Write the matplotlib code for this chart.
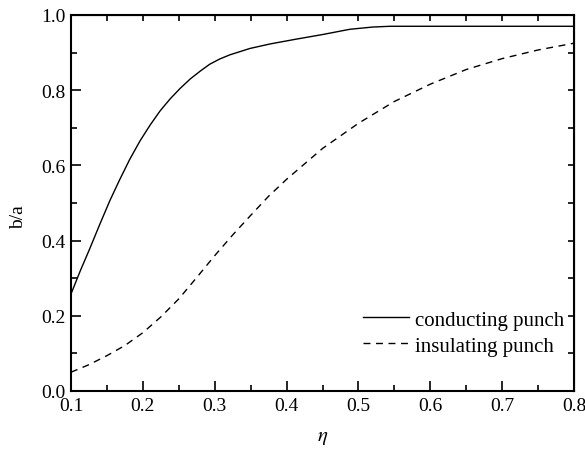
import matplotlib
matplotlib.use("Agg")
from matplotlib import pyplot as plt
from matplotlib.ticker import MultipleLocator, NullLocator, FormatStrFormatter

plt.rcParams['font.family'] = ['Liberation Serif', 'DejaVu Serif']
plt.rcParams['mathtext.fontset'] = 'stix'

# values
eta_cond = [0.1, 0.113, 0.126, 0.14, 0.154, 0.168, 0.182, 0.196, 0.21, 0.224,
            0.238, 0.252, 0.266, 0.28, 0.293, 0.307, 0.321, 0.349, 0.377,
            0.414, 0.45, 0.488, 0.52, 0.544, 0.6, 0.7, 0.8]
ba_cond = [0.258, 0.32, 0.378, 0.443, 0.506, 0.563, 0.617, 0.665, 0.707, 0.745,
           0.777, 0.805, 0.83, 0.851, 0.869, 0.883, 0.894, 0.911, 0.923,
           0.936, 0.948, 0.962, 0.968, 0.970, 0.970, 0.970, 0.970]

eta_ins = [0.1, 0.125, 0.15, 0.175, 0.2, 0.225, 0.25, 0.275, 0.3, 0.325, 0.35,
           0.375, 0.4, 0.45, 0.5, 0.55, 0.6, 0.65, 0.7, 0.75, 0.8]
ba_ins = [0.05, 0.07, 0.094, 0.121, 0.155, 0.197, 0.245, 0.302, 0.36, 0.415,
          0.467, 0.518, 0.563, 0.645, 0.712, 0.77, 0.816, 0.855, 0.884, 0.907, 0.925]

fig = plt.figure(figsize=(5.85, 4.56), dpi=100)
ax = fig.add_axes([71/585, 1-392/456, (574-71)/585, (392-16)/456])

ax.plot(eta_cond, ba_cond, color='black', lw=1.0, label='conducting punch')
ax.plot(eta_ins, ba_ins, color='black', lw=1.0, ls=(0, (5, 4)), label='insulating punch')

ax.set_xlim(0.1, 0.8)
ax.set_ylim(0.0, 1.0)
ax.xaxis.set_major_locator(MultipleLocator(0.1))
ax.xaxis.set_minor_locator(MultipleLocator(0.05))
ax.yaxis.set_major_locator(MultipleLocator(0.2))
ax.yaxis.set_minor_locator(MultipleLocator(0.1))
ax.xaxis.set_major_formatter(FormatStrFormatter('%.1f'))
ax.yaxis.set_major_formatter(FormatStrFormatter('%.1f'))
ax.tick_params(which='major', direction='in', length=7, width=1.2, labelsize=14, pad=4)
ax.tick_params(which='minor', direction='in', length=4, width=1.2)
for s in ax.spines.values():
    s.set_linewidth(1.5)

# top and right: short ticks only
top = ax.secondary_xaxis('top')
top.xaxis.set_major_locator(MultipleLocator(0.05))
top.xaxis.set_minor_locator(NullLocator())
top.tick_params(which='both', direction='in', length=4, width=1.2, labeltop=False)
right = ax.secondary_yaxis('right')
right.yaxis.set_major_locator(MultipleLocator(0.1))
right.yaxis.set_minor_locator(NullLocator())
right.tick_params(which='both', direction='in', length=4, width=1.2, labelright=False)

ax.set_xlabel(r'$\eta$', fontsize=15, labelpad=10)
ax.set_ylabel('b/a', fontsize=14)
ax.yaxis.set_label_coords(-0.088, 0.465)

ax.legend(loc='lower right', frameon=False, fontsize=15, handlelength=2.2,
          handletextpad=0.3, labelspacing=0.3, borderaxespad=0.0,
          bbox_to_anchor=(0.998, 0.072))

fig.savefig('out.png', dpi=100)
